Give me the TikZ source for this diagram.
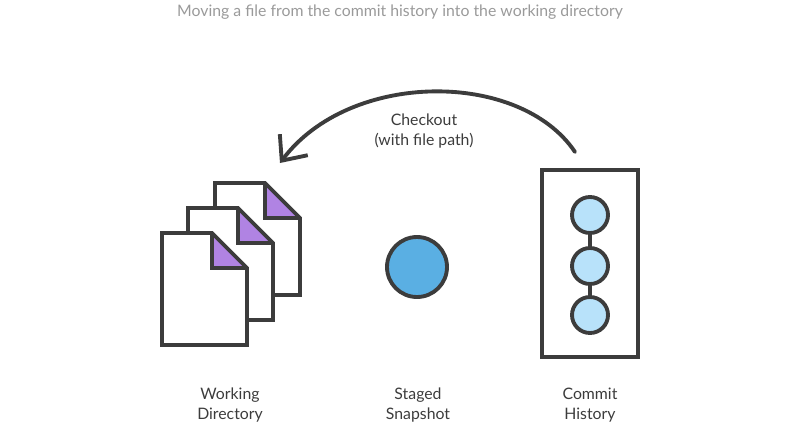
\documentclass[tikz,border=0pt]{standalone}
\usepackage{fontspec}
\setmainfont{Lato}
\usetikzlibrary{arrows.meta,positioning}
\definecolor{inkgray}{HTML}{3C3C3C}
\definecolor{titlegray}{HTML}{9A9A9A}
\definecolor{foldpurple}{HTML}{B083E3}
\definecolor{stageblue}{HTML}{5AAFE3}
\definecolor{commitblue}{HTML}{B8E2FA}
\tikzset{
  outline/.style={draw=inkgray,line width=2.2pt,line join=miter},
  label/.style={align=center,font=\small,text=inkgray},
  commit/.style={circle,outline,fill=commitblue,minimum size=36\px,inner sep=0pt},
}
\newcommand{\px}{*0.02cm}
% one page of the working directory, with folded corner
\newcommand{\page}[2]{%
  \fill[white] (#1,#2) -- ++(50,0) -- ++(35,35) -- ++(0,77) -- ++(-85,0) -- cycle;
  \fill[foldpurple] (#1+50,#2) -- ++(35,35) -- ++(-35,0) -- cycle;
  \draw[outline] (#1+50,#2) -- ++(0,35) -- ++(35,0);
  \draw[outline] (#1,#2) -- ++(50,0) -- ++(35,35) -- ++(0,77) -- ++(-85,0) -- cycle;
}
\begin{document}
\begin{tikzpicture}[x=0.02cm,y=-0.02cm]
\useasboundingbox (0,0) rectangle (800,426);
\node[font=\small,text=titlegray] (title) at (400,12) {Moving a file from the commit history into the working directory};

% working directory
\page{215}{183}
\page{188}{208}
\page{162}{233}

% staged snapshot
\node[circle,outline,fill=stageblue,minimum size=60\px] (stage) at (417,267) {};

% commit history
\draw[outline] (542,170) rectangle (638,357);
\node[commit] (c1) at (590,215) {};
\node[commit] (c2) at (590,266) {};
\node[commit] (c3) at (590,315) {};
\draw[outline] (c1) -- (c2) (c2) -- (c3);

% checkout arrow
\coordinate (from) at (575,152);
\coordinate (to) at (280,163);
\draw[outline,line cap=round,-{Straight Barb[length=4mm,width=7mm,line width=2.2pt]}]
  (from) .. controls (520,70) and (350,70) .. (to);
\node[label] (checkout) at (424,131) {Checkout\\(with file path)};

\node[label] (wd) at (230,405) {Working\\Directory};
\node[label] (ss) at (418,405) {Staged\\Snapshot};
\node[label] (ch) at (590,405) {Commit\\History};
\end{tikzpicture}
\end{document}
